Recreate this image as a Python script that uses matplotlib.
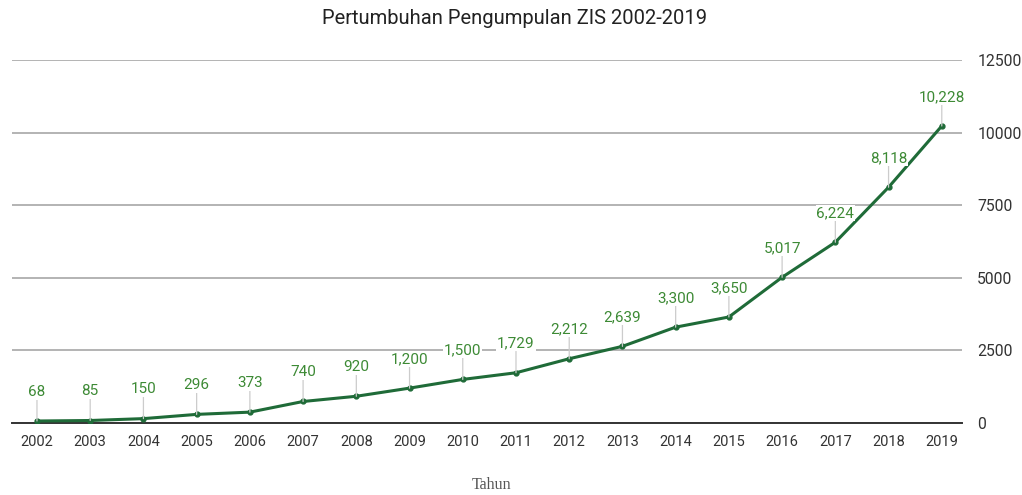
# Pertumbuhan Pengumpulan ZIS 2002-2019 -- grafik garis
import matplotlib
matplotlib.use("Agg")
import matplotlib.pyplot as plt

tahun = ["2002", "2003", "2004", "2005", "2006", "2007", "2008", "2009", "2010",
         "2011", "2012", "2013", "2014", "2015", "2016", "2017", "2018", "2019"]
zis = [68, 85, 150, 296, 373, 740, 920, 1200, 1500,
       1729, 2212, 2639, 3300, 3650, 5017, 6224, 8118, 10228]
y_ticks = [0, 2500, 5000, 7500, 10000, 12500]

plt.rcParams['font.family'] = ['Roboto', 'DejaVu Sans']

fig = plt.figure(figsize=(10.22, 4.95), dpi=100)
ax = fig.add_axes([0.0117, 0.1455, 0.9296, 0.7333])

x = list(range(len(tahun)))
line_color = "#1f6b38"
label_color = "#3d8a35"

ax.plot(x, zis, color=line_color, lw=2.2, marker="o", ms=3.5, zorder=4)

# label nilai dengan garis penunjuk
for xi, v in zip(x, zis):
    ax.annotate(f"{v:,}", xy=(xi, v), xytext=(0, 21), textcoords="offset points",
                ha="center", va="center", fontsize=11, color=label_color, zorder=5,
                bbox=dict(boxstyle="square,pad=0.05", fc="white", ec="none"),
                arrowprops=dict(arrowstyle="-", color="#cccccc", lw=0.9,
                                shrinkA=0, shrinkB=0))

ax.set_xlim(-0.47, 17.38)
ax.set_ylim(0, 12500)
ax.set_xticks(x)
ax.set_xticklabels(tahun, fontsize=10.5, color="#333333")
ax.set_yticks(y_ticks)
ax.set_yticklabels([str(t) for t in y_ticks], fontsize=11.3, color="#333333")
ax.yaxis.tick_right()
ax.tick_params(axis="both", length=0)
ax.tick_params(axis="x", pad=9)
ax.tick_params(axis="y", pad=11)

ax.grid(axis="y", color="#b3b3b3", lw=1.4)
ax.set_axisbelow(True)
for s in ["top", "left", "right"]:
    ax.spines[s].set_visible(False)
ax.spines["bottom"].set_color("#333333")
ax.spines["bottom"].set_linewidth(1.4)

fig.text(0.503, 0.963, "Pertumbuhan Pengumpulan ZIS 2002-2019", ha="center", va="center",
         fontsize=14.5, color="#222222")
fig.text(0.481, 0.004, "Tahun", ha="center", va="bottom", fontsize=11.5,
         color="#555555", family="Liberation Serif")

plt.savefig("out.png", dpi=100)
